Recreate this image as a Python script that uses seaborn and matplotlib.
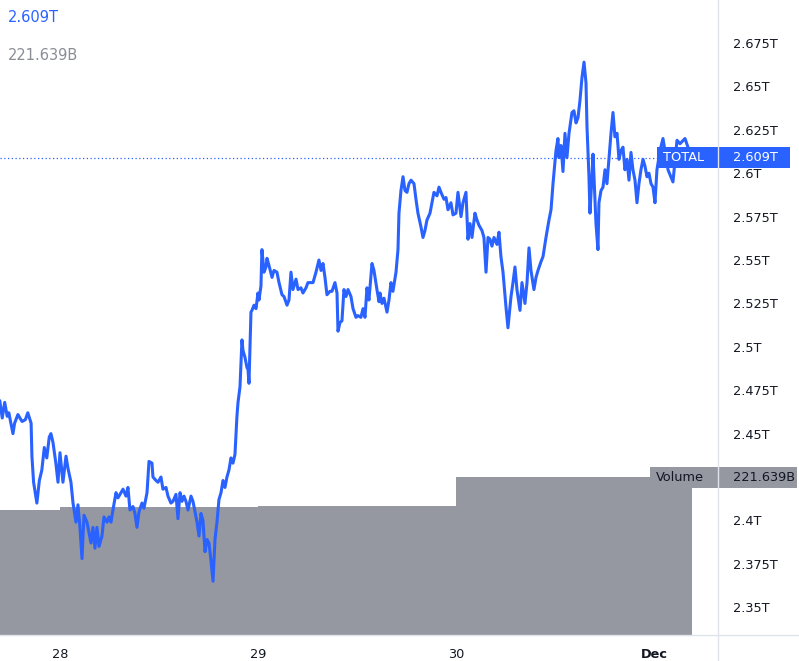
import numpy as np
import pandas as pd
import matplotlib
matplotlib.use("Agg")
import matplotlib.pyplot as plt
import seaborn as sns
from matplotlib.patches import Rectangle
from matplotlib.lines import Line2D
from matplotlib.transforms import blended_transform_factory
from matplotlib.ticker import FuncFormatter

# ---------------- data ----------------
base_day = "2021-11-28"
hours = [
    -7.3, -7.0, -6.7, -6.4, -6.2, -5.7, -5.5, -5.1, -4.6, -4.2, -3.9, -3.5, -3.4, -3.2, -2.8, -2.5, -2.2, -1.9, -1.6, -1.3, -1.1, -0.85, -0.5, -0.24,
    0.0, 0.36, 0.73, 0.97, 1.33, 1.58, 1.94, 2.18, 2.42, 2.67, 2.91, 3.27, 3.52, 3.76, 4.0, 4.24, 4.48, 4.73, 5.09, 5.33, 5.7, 5.94, 6.18, 6.42, 6.79, 7.03, 7.39, 7.64, 8.0, 8.24,
    8.48, 8.85, 9.09, 9.33, 9.58, 9.94, 10.18, 10.55, 10.79, 11.15, 11.27, 11.64, 11.88, 12.24, 12.48, 12.85, 13.09, 13.45, 13.7, 14.06, 14.3, 14.55, 14.79, 15.03, 15.27, 15.52,
    15.88, 16.12, 16.36, 16.61, 16.85, 17.09, 17.33, 17.58, 17.82, 18.06, 18.3, 18.55, 18.79, 19.03, 19.27, 19.52, 19.76, 20.0, 20.24, 20.48, 20.73, 20.97, 21.21, 21.45, 21.58, 21.82,
    22.06, 22.18, 22.42, 22.67, 22.79, 22.91, 23.15, 23.27, 23.52, 23.76, 24.0, 24.12, 24.36, 24.48, 24.73, 24.97, 25.09, 25.33, 25.7, 25.94, 26.3, 26.55, 26.91, 27.15, 27.52,
    27.76, 28.0, 28.24, 28.61, 28.85, 29.21, 29.45, 29.82, 30.06, 30.42, 30.67, 31.03, 31.39, 31.64, 31.88, 32.12, 32.36, 32.73, 32.97, 33.33, 33.58, 33.7, 33.94, 34.18, 34.42,
    34.67, 34.91, 35.27, 35.52, 35.88, 36.12, 36.48, 36.73, 36.97, 37.21, 37.45, 37.82, 38.06, 38.42, 38.67,
    38.79, 39.03, 39.27, 39.64, 39.88, 40.12, 40.36, 40.73, 40.97, 41.09, 41.33, 41.58, 41.82, 42.06, 42.3, 42.55, 42.91, 43.15, 43.39, 43.76, 44.0, 44.24, 44.48, 44.85, 45.09,
    45.33, 45.7, 45.94, 46.18, 46.55, 46.79, 47.03, 47.39, 47.64, 48.0, 48.24, 48.61, 48.85, 49.21, 49.45, 49.7, 49.94, 50.3, 50.55, 50.79, 51.15, 51.39, 51.64, 51.88, 52.12,
    52.36, 52.61, 52.97, 53.21, 53.45, 53.7,
    54.06, 54.3, 54.67, 54.91, 55.15, 55.39, 55.76, 56.0, 56.36, 56.61, 56.85, 57.09, 57.45, 57.7, 57.94, 58.3, 58.55, 58.91, 59.27, 59.52, 59.76, 60.12, 60.36, 60.48, 60.73,
    60.97, 61.21, 61.45, 61.7, 62.06, 62.3, 62.55, 62.79, 63.03, 63.27, 63.52, 63.76, 63.88, 64.12, 64.24, 64.48, 64.61, 64.85, 64.97, 65.21, 65.33, 65.58, 65.82, 66.06, 66.3,
    66.55, 66.79, 67.03, 67.27, 67.52, 67.76, 68.0, 68.24, 68.48, 68.73, 68.97, 69.21, 69.45, 69.7, 69.94, 70.18, 70.42, 70.67, 70.91, 71.15, 71.39, 71.64, 71.88, 72.12, 72.36,
    72.73, 73.09, 73.7, 74.3, 74.79, 75.15, 75.76, 76.12, 76.61,
]
total_b = [
    2469, 2459, 2468, 2460, 2462, 2450, 2456, 2461, 2457, 2458, 2462, 2456, 2437, 2422, 2410, 2423, 2429, 2442, 2436, 2448, 2450, 2445, 2433, 2422,
    2439, 2422, 2437, 2430, 2422, 2410, 2399, 2409, 2396, 2378, 2403, 2399, 2393, 2387, 2396, 2384, 2396, 2385, 2391, 2402, 2399, 2402, 2399, 2406, 2416, 2413, 2416, 2418, 2414, 2419,
    2406, 2408, 2404, 2396, 2405, 2410, 2407, 2416, 2434, 2433, 2425, 2423, 2422, 2425, 2418, 2419, 2414, 2410, 2411, 2415, 2401, 2416, 2411, 2414, 2411, 2406,
    2414, 2411, 2405, 2399, 2391, 2404, 2400, 2382, 2389, 2387, 2377, 2365, 2389, 2399, 2412, 2416, 2423, 2419, 2425, 2429, 2436, 2433, 2438, 2460, 2468, 2477,
    2504, 2498, 2494, 2488, 2487, 2479, 2520, 2521, 2524, 2522, 2531, 2527, 2535, 2556, 2543, 2546, 2551, 2547, 2540, 2544, 2543, 2537, 2530, 2529, 2524,
    2527, 2543, 2533, 2539, 2533, 2534, 2531, 2534, 2537, 2537, 2537, 2543, 2550, 2544, 2548, 2540, 2530, 2532, 2532, 2537, 2531, 2509, 2514, 2515, 2533,
    2529, 2533, 2529, 2522, 2517, 2518, 2517, 2522, 2517, 2534, 2527, 2548, 2544, 2533, 2526,
    2531, 2525, 2528, 2520, 2527, 2537, 2532, 2543, 2556, 2577, 2590, 2598, 2590, 2589, 2594, 2596, 2594, 2585, 2577, 2569, 2563, 2567, 2573, 2577, 2583,
    2589, 2587, 2592, 2589, 2585, 2586, 2579, 2583, 2576, 2577, 2589, 2575, 2583, 2589, 2562, 2571, 2563, 2577, 2573, 2570, 2567, 2563, 2543, 2563, 2562,
    2558, 2563, 2559, 2566, 2552, 2543,
    2523, 2511, 2529, 2537, 2546, 2533, 2521, 2537, 2525, 2537, 2557, 2544, 2533, 2540, 2544, 2549, 2552, 2563, 2573, 2579, 2594, 2613, 2620, 2609, 2616,
    2601, 2623, 2609, 2623, 2635, 2636, 2629, 2632, 2642, 2655, 2664, 2652, 2627, 2598, 2577, 2598, 2611, 2585, 2571, 2556, 2583, 2590, 2592, 2602, 2594,
    2609, 2623, 2635, 2621, 2623, 2608, 2613, 2615, 2602, 2608, 2596, 2612, 2602, 2596, 2583, 2594, 2602, 2608, 2604, 2598, 2600, 2594, 2592, 2583, 2602,
    2613, 2620, 2602, 2595, 2619, 2617, 2620, 2615, 2609,
]
vol_days = ["2021-11-27", "2021-11-28", "2021-11-29", "2021-11-30"]
vol_b = [175.4, 179.6, 181.0, 221.639]
tick_days = ["2021-11-28", "2021-11-29", "2021-11-30", "2021-12-01"]
tick_labels = ["28", "29", "30", "Dec"]
price_ticks = [2.35, 2.375, 2.4, 2.45, 2.475, 2.5, 2.525, 2.55, 2.575, 2.6, 2.625, 2.65, 2.675]
last_total = 2.609
last_volume = 221.639
series_name = "TOTAL"
vol_name = "Volume"

# ---------------- styling ----------------
BLUE = "#2962FF"
GREY = "#9598A1"
TXT = "#131722"
SEP = "#E0E3EB"

sns.set_style("white")
plt.rcParams["font.family"] = ["DejaVu Sans"]

W, H = 799, 661
fig = plt.figure(figsize=(W / 100, H / 100), dpi=100)
ax_vol = fig.add_axes([0, 26 / H, 718 / W, 635 / H])
ax = ax_vol.twinx()

t0 = pd.Timestamp(base_day)
df = pd.DataFrame({"time": t0 + pd.to_timedelta(hours, unit="h"),
                   "total": np.array(total_b) / 1000.0})

# volume steps
edges = list(pd.to_datetime(vol_days)) + [df["time"].iloc[-1]]
vals = vol_b + [vol_b[-1]]
ax_vol.fill_between(edges, vals, step="post", color=GREY, linewidth=0)
ax_vol.set_ylim(0, 890.8)
ax_vol.set_yticks([])

# price line
sns.lineplot(data=df, x="time", y="total", ax=ax, color=BLUE, linewidth=2.2)
ax.set_ylim(2.334, 2.6998)
ax.set_xlim(t0 + pd.Timedelta(hours=-7.27), t0 + pd.Timedelta(hours=79.76))
ax.set_ylabel("")
ax.set_yticks(price_ticks)
ax.yaxis.set_major_formatter(FuncFormatter(lambda v, p: f"{round(v, 3):g}T"))
ax.tick_params(axis="y", length=0, pad=11, labelsize=9.3, labelcolor=TXT)
ax.axhline(last_total, xmin=0, xmax=657 / 718, color=BLUE, linestyle=(0, (1, 2)), linewidth=0.9)

# x ticks
ax_vol.set_xticks(pd.to_datetime(tick_days))
ax_vol.set_xticklabels(tick_labels)
ax_vol.tick_params(axis="x", length=0, pad=9, labelsize=9.3, labelcolor=TXT)
for lab in ax_vol.get_xticklabels():
    if lab.get_text() == "Dec":
        lab.set_fontweight("bold")
ax_vol.set_xlabel("")

for a in (ax, ax_vol):
    for s in a.spines.values():
        s.set_visible(False)

# separators
fig.add_artist(Line2D([718 / W, 718 / W], [0, 1], transform=fig.transFigure, color=SEP, linewidth=1))
fig.add_artist(Line2D([0, 1], [26 / H, 26 / H], transform=fig.transFigure, color=SEP, linewidth=1))

# last price label
bt = blended_transform_factory(fig.transFigure, ax.transData)
hh = 21 / 1736
fig.add_artist(Rectangle((657 / W, last_total - hh / 2), (790 - 657) / W, hh, transform=bt,
                         facecolor=BLUE, edgecolor="none"))
fig.text(663 / W, last_total, series_name, transform=bt, color="white", fontsize=9.3, va="center", ha="left")
fig.text(733 / W, last_total, f"{last_total}T", transform=bt, color="white", fontsize=9.3, va="center", ha="left")

# volume label
bt2 = blended_transform_factory(fig.transFigure, ax_vol.transData)
hv = 21 / 635 * 890.8
fig.add_artist(Rectangle((650 / W, last_volume - hv / 2), (797 - 650) / W, hv, transform=bt2,
                         facecolor=GREY, edgecolor="none"))
fig.text(656 / W, last_volume, vol_name, transform=bt2, color=TXT, fontsize=9.3, va="center", ha="left")
fig.text(733 / W, last_volume, f"{last_volume}B", transform=bt2, color=TXT, fontsize=9.3, va="center", ha="left")

# legend values top-left
fig.text(8 / W, 1 - 17 / H, f"{last_total}T", color=BLUE, fontsize=10.5, va="center", ha="left")
fig.text(8 / W, 1 - 55 / H, f"{last_volume}B", color="#8A8D96", fontsize=10.5, va="center", ha="left")

fig.savefig("out.png", dpi=100)
